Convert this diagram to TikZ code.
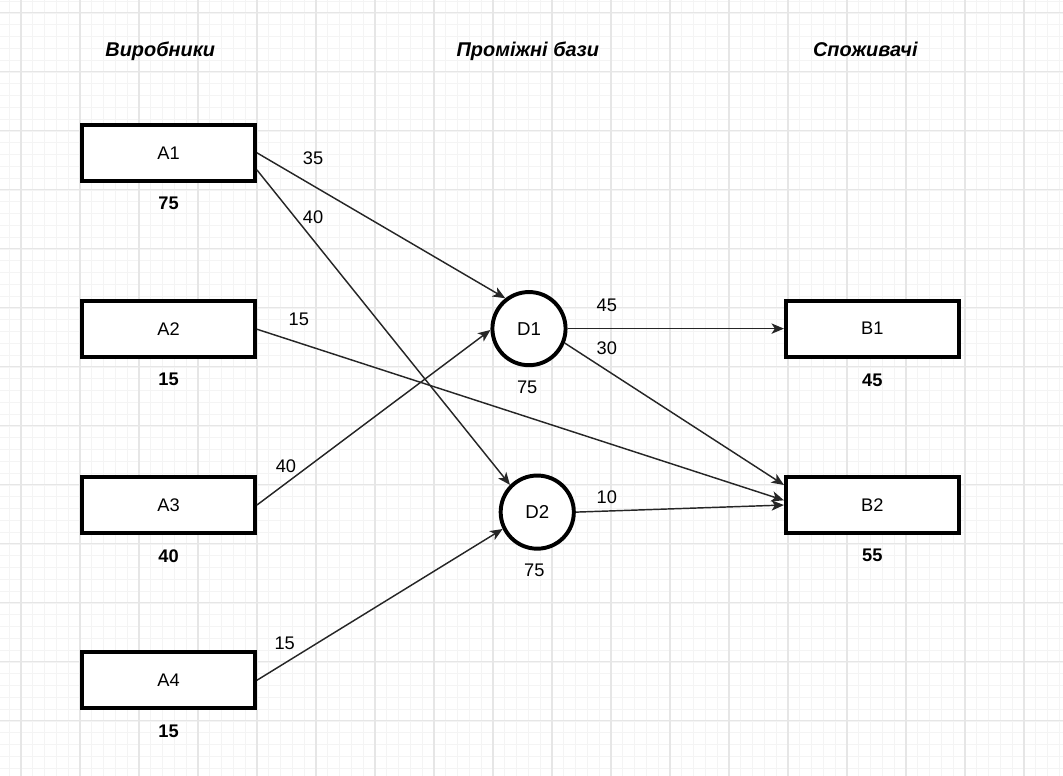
\documentclass[tikz,border=0pt]{standalone}
\usepackage{fontspec}
\setmainfont{Liberation Sans}
\usepackage{xcolor}
\usepackage{tikz}
\usetikzlibrary{arrows.meta,positioning,calc}
\definecolor{sitkaMala}{HTML}{F4F4F4}
\definecolor{sitkaVelyka}{HTML}{E6E6E6}
\tikzset{
  pryamokut/.style={draw=black, line width=1.9pt, fill=white, minimum width=2.93cm, minimum height=0.95cm, font=\fontsize{8.8}{10}\selectfont},
  kolo/.style={draw=black, line width=1.9pt, fill=white, circle, minimum size=1.24cm, inner sep=0pt, font=\fontsize{9}{10}\selectfont},
  obsyag/.style={font=\fontsize{8.8}{10}\selectfont\bfseries},
  zapas/.style={font=\fontsize{8.8}{10}\selectfont},
  potik/.style={font=\fontsize{8.8}{10}\selectfont},
  zagolovok/.style={anchor=base, font=\fontsize{9.6}{11}\selectfont\bfseries\itshape},
  strilka/.style={-{Stealth[length=6pt, width=5pt, inset=1.6pt]}, line width=0.7pt, black!85},
}

\begin{document}
\begin{tikzpicture}
\useasboundingbox (-0.356,0.22) rectangle (17.661,-12.932);
\draw[sitkaMala, step=0.2, line width=0.4pt] (-0.356,0.22) grid (17.661,-12.932);
\draw[sitkaVelyka, step=1, line width=0.5pt] (-0.356,0.22) grid (17.661,-12.932);

\node[zagolovok] (hA) at (2.36,-0.74) {Виробники};
\node[zagolovok] (hD) at (8.59,-0.74) {Проміжні бази};
\node[zagolovok] (hB) at (14.31,-0.74) {Споживачі};

% vyrobnyky
\node[pryamokut] (A1) at (2.50,-2.37) {A1};
\node[pryamokut] (A2) at (2.50,-5.36) {A2};
\node[pryamokut] (A3) at (2.50,-8.34) {A3};
\node[pryamokut] (A4) at (2.50,-11.31) {A4};
\node[obsyag] (a1) at (2.50,-3.22) {75};
\node[obsyag] (a2) at (2.50,-6.21) {15};
\node[obsyag] (a3) at (2.50,-9.20) {40};
\node[obsyag] (a4) at (2.50,-12.17) {15};

% bazy
\node[kolo] (D1) at (8.61,-5.35) {D1};
\node[kolo] (D2) at (8.75,-8.46) {D2};
\node[zapas] (d1) at (8.58,-6.34) {75};
\node[zapas] (d2) at (8.70,-9.44) {75};

% spozhyvachi
\node[pryamokut] (B1) at (14.43,-5.35) {B1};
\node[pryamokut] (B2) at (14.43,-8.34) {B2};
\node[obsyag] (b1) at (14.43,-6.22) {45};
\node[obsyag] (b2) at (14.43,-9.20) {55};

\draw[strilka] (A1.east) -- (D1.128);
\draw[strilka] ([yshift=-0.29cm]A1.east) -- (D2.135);
\draw[strilka] (A2.east) -- ([yshift=0.08cm]B2.west);
\draw[strilka] (A3.east) -- (D1.182);
\draw[strilka] (A4.east) -- (D2.206);
\draw[strilka] (D1.east) -- (B1.west);
\draw[strilka] (D1.-22) -- ([yshift=0.34cm]B2.west);
\draw[strilka] (D2.east) -- (B2.west);

\node[potik] (f1) at (4.95,-2.46) {35};
\node[potik] (f2) at (4.95,-3.47) {40};
\node[potik] (f3) at (4.71,-5.20) {15};
\node[potik] (f4) at (4.49,-7.69) {40};
\node[potik] (f5) at (4.47,-10.69) {15};
\node[potik] (f6) at (9.93,-4.95) {45};
\node[potik] (f7) at (9.93,-5.68) {30};
\node[potik] (f8) at (9.93,-8.20) {10};
\end{tikzpicture}
\end{document}
